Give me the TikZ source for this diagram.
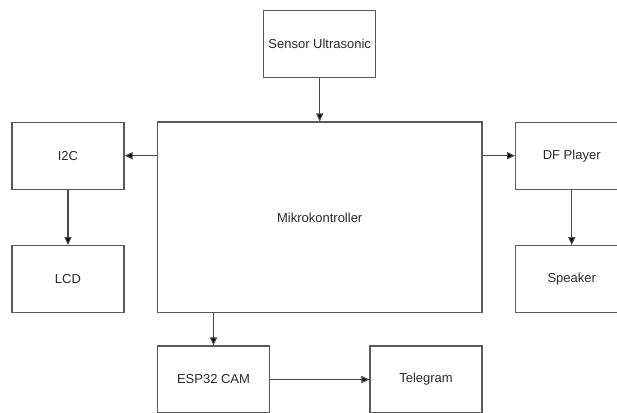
\documentclass[tikz,border=0pt]{standalone}
\usepackage{fontspec}
\setmainfont{Liberation Sans}
\usetikzlibrary{arrows.meta}
\definecolor{boxline}{HTML}{5A5A5A}
\definecolor{boxtext}{HTML}{2A2A2A}
\tikzset{
  blok/.style={draw=boxline, line width=1.2pt, fill=white, text=boxtext,
    minimum width=112pt, minimum height=67pt, inner sep=0pt,
    font=\fontsize{13}{15}\selectfont},
  panah/.style={draw=boxline!80!black, line width=1.1pt,
    -{Triangle[length=8pt,width=7pt,fill=black]}}
}
\begin{document}
\begin{tikzpicture}[x=1pt,y=-1pt]
  \useasboundingbox (0,0) rectangle (617,412);
  \clip (0,0) rectangle (617,412);

  % Blocks
  \node[blok] (sensor) at (319.7,43.7) {Sensor Ultrasonic};
  \node[blok, minimum width=324.6pt, minimum height=190.7pt] (mikro) at (319.7,217.4) {Mikrokontroller};
  \node[blok] (i2c) at (68,155.7) {I2C};
  \node[blok] (lcd) at (68,279.2) {LCD};
  \node[blok] (dfplayer) at (571.7,155.7) {DF Player};
  \node[blok] (speaker) at (571.7,279.2) {Speaker};
  \node[blok] (esp) at (213.5,379.5) {ESP32 CAM};
  \node[blok] (telegram) at (426,379.5) {Telegram};

  % Connections
  \draw[panah] (sensor.south) -- (mikro.north);
  \draw[panah] (mikro.west |- i2c) -- (i2c.east);
  \draw[panah] (mikro.east |- dfplayer) -- (dfplayer.west);
  \draw[panah] (i2c.south) -- (lcd.north);
  \draw[panah] (dfplayer.south) -- (speaker.north);
  \draw[panah] (mikro.south -| esp) -- (esp.north);
  \draw[panah] (esp.east) -- (telegram.west);

\end{tikzpicture}
\end{document}
